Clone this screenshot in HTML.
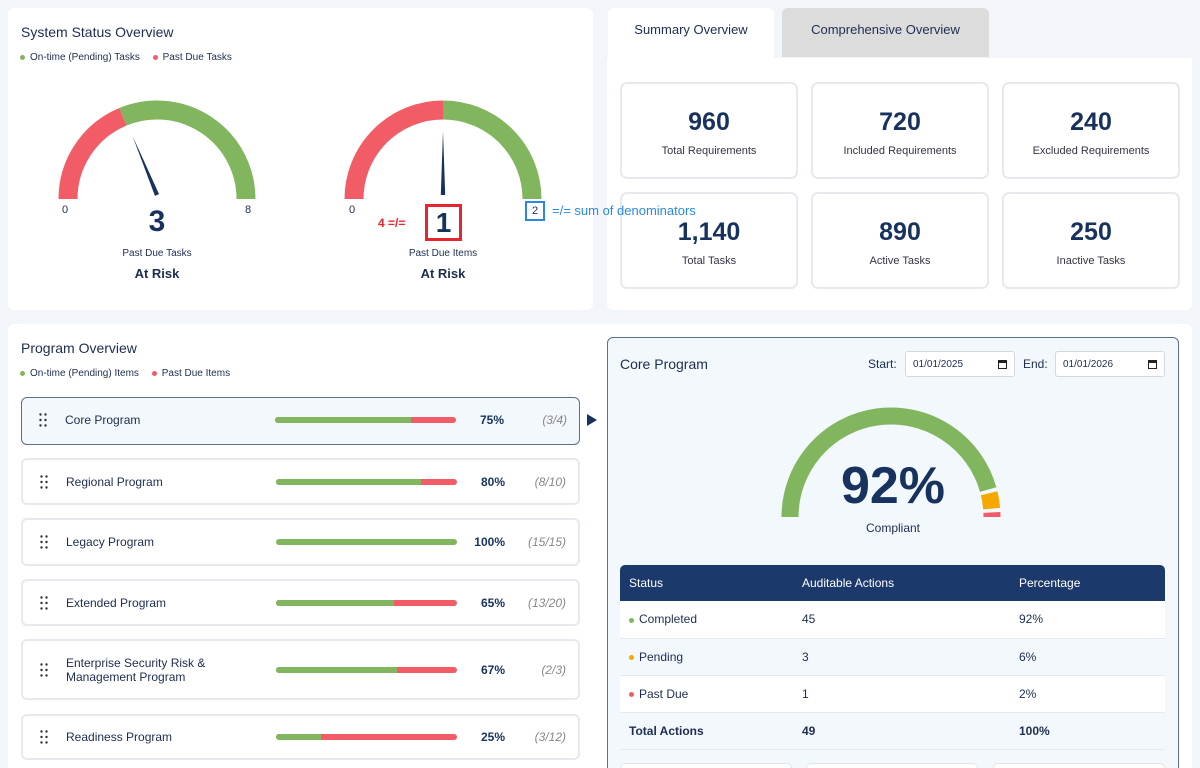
<!DOCTYPE html>
<html><head><meta charset="utf-8">
<style>
*{box-sizing:border-box;margin:0;padding:0}
html,body{width:1200px;height:768px;overflow:hidden}
body{background:#f2f5f9;font-family:"Liberation Sans",sans-serif;color:#1d2d50;position:relative}
.abs{position:absolute}
.panel{position:absolute;background:#fff;border-radius:6px}
.card{position:absolute;background:#fff;border:2px solid #e6e9ee;border-radius:7px;text-align:center}
.card .n{font-size:25px;font-weight:bold;color:#17325e;margin-top:24px}
.card .l{font-size:11px;color:#334;margin-top:8px}
.dot{display:inline-block;width:5px;height:5px;border-radius:50%;margin-right:5px;vertical-align:middle}
.row{position:absolute;left:21px;width:559px;background:#fff;border:2px solid #e6e9ee;border-radius:6px}
.row .name{position:absolute;left:43px;font-size:12px;color:#1d2d50;line-height:14px}
.row .grip{position:absolute;left:17px;width:8px;height:14px;font-size:0}
.row .bar{position:absolute;left:253px;width:181px;height:6px;border-radius:3px;background:#f25c66;overflow:hidden}
.row .bar i{display:block;height:100%;background:#82b65e}
.row .pct{position:absolute;left:440px;width:42px;text-align:right;font-size:12px;font-weight:bold;color:#17325e}
.row .frac{position:absolute;right:12px;font-size:12px;font-style:italic;color:#888}
table{border-collapse:collapse}
td,th{font-size:12px;text-align:left;padding-left:9px}
</style></head><body>

<div class="panel" style="left:8px;top:8px;width:585px;height:302px">
  <div class="abs" style="left:13px;top:16px;font-size:14px">System Status Overview</div>
  <div class="abs" style="left:12px;top:44px;font-size:10px">
    <span><span class="dot" style="background:#82b65e"></span>On-time (Pending) Tasks</span>
    <span style="margin-left:10px"><span class="dot" style="background:#f25c66"></span>Past Due Tasks</span>
  </div>
</div>

<div class="panel" style="left:607px;top:8px;width:585px;height:302px;border-radius:6px"></div>
<div class="abs" style="left:607px;top:8px;width:585px;height:50px;background:#f2f5f9"></div>
<div class="abs" style="left:608px;top:8px;width:166px;height:50px;background:#fff;border-radius:6px 6px 0 0;font-size:13px;text-align:center;line-height:44px">Summary Overview</div>
<div class="abs" style="left:782px;top:8px;width:207px;height:49px;background:#dcdcdc;border-radius:6px 6px 0 0;font-size:13px;text-align:center;line-height:44px">Comprehensive Overview</div>
<div class="card" style="left:620px;top:82px;width:178px;height:97px"><div class="n">960</div><div class="l">Total Requirements</div></div>
<div class="card" style="left:811px;top:82px;width:178px;height:97px"><div class="n">720</div><div class="l">Included Requirements</div></div>
<div class="card" style="left:1002px;top:82px;width:178px;height:97px"><div class="n">240</div><div class="l">Excluded Requirements</div></div>
<div class="card" style="left:620px;top:192px;width:178px;height:97px"><div class="n">1,140</div><div class="l">Total Tasks</div></div>
<div class="card" style="left:811px;top:192px;width:178px;height:97px"><div class="n">890</div><div class="l">Active Tasks</div></div>
<div class="card" style="left:1002px;top:192px;width:178px;height:97px"><div class="n">250</div><div class="l">Inactive Tasks</div></div>

<svg class="abs" style="left:0;top:0" width="600" height="320" id="gsvg"></svg>
<div class="abs" style="left:62px;top:204px;font-size:11px">0</div>
<div class="abs" style="left:245px;top:204px;font-size:11px">8</div>
<div class="abs" style="left:117px;top:205px;width:80px;text-align:center;font-size:30px;font-weight:bold;color:#17325e">3</div>
<div class="abs" style="left:97px;top:248px;width:120px;text-align:center;font-size:10px">Past Due Tasks</div>
<div class="abs" style="left:97px;top:266px;width:120px;text-align:center;font-size:13px;font-weight:bold">At Risk</div>
<div class="abs" style="left:349px;top:204px;font-size:11px">0</div>
<div class="abs" style="left:378px;top:216px;font-size:12px;font-weight:bold;color:#e5262c">4 =/=</div>
<div class="abs" style="left:425px;top:204px;width:37px;height:37px;border:3px solid #e5262c;text-align:center;font-size:28px;font-weight:bold;line-height:31px;color:#17325e">1</div>
<div class="abs" style="left:525px;top:201px;width:20px;height:20px;border:2px solid #2a8ae0;text-align:center;font-size:11px;line-height:16px">2</div>
<div class="abs" style="left:552px;top:203px;font-size:13px;color:#2a8ae0;white-space:nowrap">=/= sum of denominators</div>
<div class="abs" style="left:383px;top:248px;width:120px;text-align:center;font-size:10px">Past Due Items</div>
<div class="abs" style="left:383px;top:266px;width:120px;text-align:center;font-size:13px;font-weight:bold">At Risk</div>

<div class="panel" style="left:8px;top:324px;width:1184px;height:460px"></div>
<div class="abs" style="left:21px;top:340px;font-size:14px">Program Overview</div>
<div class="abs" style="left:20px;top:368px;font-size:10px">
  <span><span class="dot" style="background:#82b65e"></span>On-time (Pending) Items</span>
  <span style="margin-left:10px"><span class="dot" style="background:#f25c66"></span>Past Due Items</span>
</div>
<div id="rows"></div>
<div class="abs" style="left:587px;top:414px;width:0;height:0;border-left:10px solid #17325e;border-top:6px solid transparent;border-bottom:6px solid transparent"></div>

<div class="abs" style="left:607px;top:337px;width:572px;height:450px;background:#f3f8fc;border:1.5px solid #5b6f8a;border-radius:6px"></div>
<div class="abs" style="left:620px;top:356px;font-size:14px">Core Program</div>
<div class="abs" style="left:868px;top:357px;font-size:12px">Start:</div>
<div class="abs" style="left:905px;top:351px;width:110px;height:26px;background:#fff;border:1px solid #d5d9df;border-radius:3px;font-size:10px;padding:7px 0 0 7px">01/01/2025<span style="position:absolute;right:7px;top:8px;width:9px;height:9px;border:1.5px solid #222;border-top-width:3px"></span></div>
<div class="abs" style="left:1023px;top:357px;font-size:12px">End:</div>
<div class="abs" style="left:1055px;top:351px;width:110px;height:26px;background:#fff;border:1px solid #d5d9df;border-radius:3px;font-size:10px;padding:7px 0 0 7px">01/01/2026<span style="position:absolute;right:7px;top:8px;width:9px;height:9px;border:1.5px solid #222;border-top-width:3px"></span></div>
<svg class="abs" style="left:600px;top:330px" width="600" height="220" id="csvg"></svg>
<div class="abs" style="left:813px;top:456px;width:160px;text-align:center;font-size:52px;font-weight:bold;color:#17325e">92%</div>
<div class="abs" style="left:833px;top:521px;width:120px;text-align:center;font-size:12px">Compliant</div>

<table class="abs" style="left:620px;top:565px;width:545px">
<tr style="background:#1b3a6b;color:#fff;height:36px"><th style="border-radius:5px 0 0 0;font-weight:normal;width:173px">Status</th><th style="font-weight:normal;width:217px">Auditable Actions</th><th style="font-weight:normal;border-radius:0 5px 0 0">Percentage</th></tr>
<tr style="background:#fff;height:37px;border-bottom:1px solid #e5e8ec"><td><span class="dot" style="background:#82b65e"></span>Completed</td><td>45</td><td>92%</td></tr>
<tr style="height:37px;border-bottom:1px solid #e5e8ec"><td><span class="dot" style="background:#f5a800"></span>Pending</td><td>3</td><td>6%</td></tr>
<tr style="background:#fff;height:37px;border-bottom:1px solid #e5e8ec"><td><span class="dot" style="background:#f25c66"></span>Past Due</td><td>1</td><td>2%</td></tr>
<tr style="height:37px;border-bottom:1px solid #e5e8ec;font-weight:bold"><td style="font-weight:bold">Total Actions</td><td style="font-weight:bold">49</td><td style="font-weight:bold">100%</td></tr>
</table>
<div class="abs" style="left:620px;top:763px;width:172px;height:20px;background:#fff;border:1.5px solid #e2e5ea;border-radius:5px"></div>
<div class="abs" style="left:806px;top:763px;width:172px;height:20px;background:#fff;border:1.5px solid #e2e5ea;border-radius:5px"></div>
<div class="abs" style="left:993px;top:763px;width:172px;height:20px;background:#fff;border:1.5px solid #e2e5ea;border-radius:5px"></div>

<script>
const gaugeValues=[3,1];
const gaugeMax=[8,2];
const programNames=["Core Program","Regional Program","Legacy Program","Extended Program","Enterprise Security Risk &<br>Management Program","Readiness Program"];
const programDone=[3,8,15,13,2,3];
const programTotal=[4,10,15,20,3,12];
const complianceCounts=[45,3,1];
const complianceColors=["#82b65e","#f5a800","#f25c66"];

const NS="http://www.w3.org/2000/svg";
function pt(cx,cy,r,f){const a=Math.PI*(1-f);return [cx+r*Math.cos(a),cy-r*Math.sin(a)];}
function arc(svg,cx,cy,r,f0,f1,col,w,name){
  const p0=pt(cx,cy,r,f0),p1=pt(cx,cy,r,f1);
  const p=document.createElementNS(NS,"path");
  p.setAttribute("d",`M${p0[0]} ${p0[1]} A${r} ${r} 0 0 1 ${p1[0]} ${p1[1]}`);
  p.setAttribute("stroke",col);p.setAttribute("stroke-width",w);p.setAttribute("fill","none");
  
  
  svg.appendChild(p);
}
const gs=document.getElementById("gsvg");
const centers=[[157,199],[443,199]];
gaugeValues.forEach((v,i)=>{
  const [cx,cy]=centers[i];const f=v/gaugeMax[i];
  arc(gs,cx,cy,89,0,f,"#f25c66",19,"gauge-pastdue-arc");
  arc(gs,cx,cy,89,f,1,"#82b65e",19,"gauge-ontime-arc");
  const tip=pt(cx,cy-4,64,f),a=Math.PI*(1-f);
  const nx=Math.sin(a)*2.2,ny=Math.cos(a)*2.2;
  const b=[cx,cy-4];
  const n=document.createElementNS(NS,"polygon");
  n.setAttribute("points",`${b[0]-nx},${b[1]-ny} ${tip[0]},${tip[1]} ${b[0]+nx},${b[1]+ny}`);
  n.setAttribute("fill","#17325e");
  
  
  gs.appendChild(n);
});
const cs=document.getElementById("csvg");
const tot=complianceCounts.reduce((a,b)=>a+b,0);
let acc=0;
complianceCounts.forEach((c,i)=>{
  const f0=acc/tot,f1=(acc+c)/tot;acc+=c;
  const gap=i<complianceCounts.length-1?0.012:0;
  arc(cs,291,187,101,f0+(i?0.006:0),Math.max(f0+0.008,f1-gap/2),complianceColors[i],17,"compliance-arc-"+i);
});
const rows=document.getElementById("rows");
const tops=[397,458,518,579,639,714],hs=[48,47,48,47,61,46];
programNames.forEach((nm,i)=>{
  const r=document.createElement("div");r.className="row";
  
  
  const h=hs[i];r.style.top=tops[i]+"px";r.style.height=h+"px";
  if(i===0){r.style.background="#f3f8fc";r.style.border="1.5px solid #5b6f8a";}
  const pct=Math.round(programDone[i]/programTotal[i]*100);
  const mid=(h-4)/2;
  const lines=nm.includes("<br>")?2:1;
  r.innerHTML=`<div class="grip" style="top:${mid-7}px"><svg width="8" height="14"><g fill="#333"><circle cx="1.5" cy="1.5" r="1.2"/><circle cx="6.5" cy="1.5" r="1.2"/><circle cx="1.5" cy="7" r="1.2"/><circle cx="6.5" cy="7" r="1.2"/><circle cx="1.5" cy="12.5" r="1.2"/><circle cx="6.5" cy="12.5" r="1.2"/></g></svg></div>
  <div class="name" style="top:${mid-7*lines}px">${nm}</div>
  <div class="bar" style="top:${mid-3}px"><i style="width:${pct}%"></i></div>
  <div class="pct" style="top:${mid-7}px">${pct}%</div>
  <div class="frac" style="top:${mid-7}px">(${programDone[i]}/${programTotal[i]})</div>`;
  rows.appendChild(r);
});
</script>
</body></html>
